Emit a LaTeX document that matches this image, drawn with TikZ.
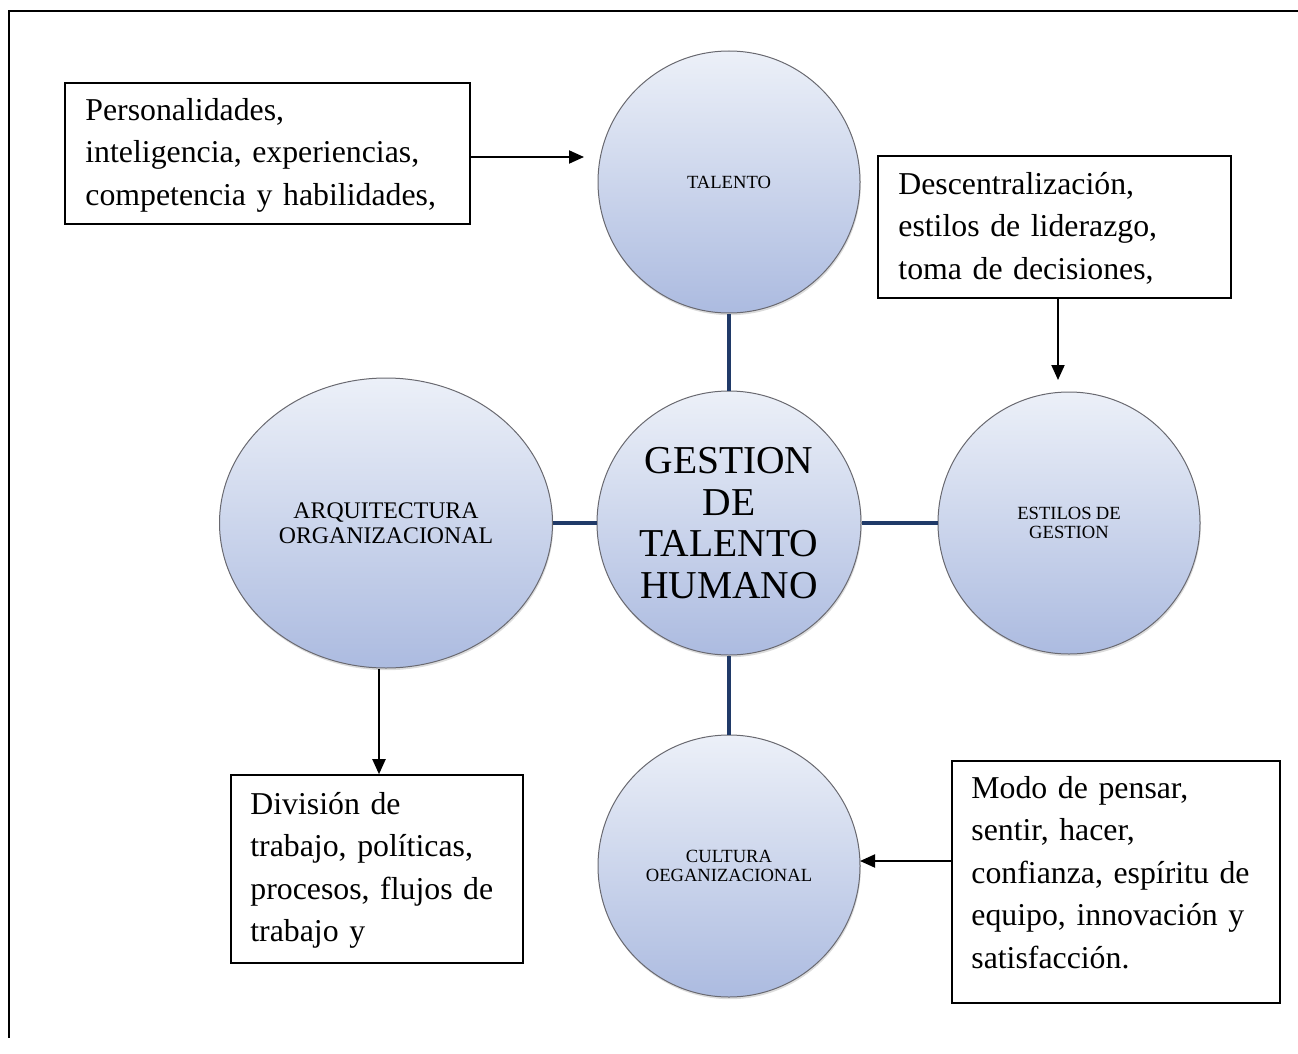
\documentclass[tikz,border=0pt]{standalone}
\usepackage{fontspec}
\setmainfont{Liberation Serif}[WordSpace=0.9]
\usetikzlibrary{arrows.meta,shapes.geometric,shadows}
\definecolor{navy}{RGB}{32,58,104}
\definecolor{bubtop}{RGB}{236,240,248}
\definecolor{bubbot}{RGB}{172,187,224}
\definecolor{bubrim}{RGB}{105,105,112}
\begin{document}
\begin{tikzpicture}[x=1pt,y=-1pt,
  bubblebase/.style={inner sep=0pt, top color=bubtop, bottom color=bubbot,
    draw=bubrim, line width=1pt, align=center,
    drop shadow={shadow xshift=0.8pt, shadow yshift=-2.2pt, opacity=0.28}},
  bubble/.style={bubblebase, circle, minimum size=#1},
  link/.style={draw=navy, line width=4pt},
  noteframe/.style={draw=black, line width=1.6pt, rectangle, inner sep=0pt},
  notetext/.style={inner sep=0pt, align=left, anchor=base west,
    font=\fontsize{31.8}{42.5}\selectfont},
  pointer/.style={draw=black, line width=2pt, -{Triangle[length=15pt,width=13pt]}},
  smallcap/.style={font=\fontsize{18.6}{19.5}\selectfont},
]
\useasboundingbox (0,0) rectangle (1298,1054);

% page frame (top and left rules)
\draw[line width=2.3pt] (1298,11) -- (9,11) -- (9,1038);

% central idea and its four branches
\node[bubble=264pt, font=\fontsize{39.5}{41.5}\selectfont] (gth) at (729,523)
  {GESTION\\DE\\TALENTO\\HUMANO};
\node[bubble=262pt, smallcap] (talento) at (729,182) {TALENTO};
\node[bubble=262pt, smallcap] (estilos) at (1069,523) {ESTILOS DE\\GESTION};
\node[bubble=262pt, smallcap] (cultura) at (729,866) {CULTURA\\OEGANIZACIONAL};
\node[bubblebase, ellipse, minimum width=333pt, minimum height=290pt,
  font=\fontsize{23.8}{24.5}\selectfont] (arq) at (386,523)
  {ARQUITECTURA\\ORGANIZACIONAL};

% navy links between the hub and the branches
\draw[link] (talento.south) -- (gth.north);
\draw[link] (gth.south) -- (cultura.north);
\draw[link] (arq.east) -- (gth.west);
\draw[link] (gth.east) -- (estilos.west);

% description boxes
\node[noteframe, minimum width=405pt, minimum height=141pt] (box1) at (267.5,153.5) {};
\node[noteframe, minimum width=353pt, minimum height=142pt] (box2) at (1054.5,227) {};
\node[noteframe, minimum width=292pt, minimum height=188pt] (box3) at (377,869) {};
\node[noteframe, minimum width=328pt, minimum height=242pt] (box4) at (1116,882) {};

\node[notetext, text width=370pt] (txt1) at ([xshift=21pt,yshift=-38pt]box1.north west)
  {Personalidades,\\inteligencia, experiencias,\\competencia y habilidades,};
\node[notetext, text width=320pt] (txt2) at ([xshift=21pt,yshift=-39pt]box2.north west)
  {Descentralización,\\estilos de liderazgo,\\toma de decisiones,};
\node[notetext, text width=270pt] (txt3) at ([xshift=20pt,yshift=-40pt]box3.north west)
  {División de\\trabajo, políticas,\\procesos, flujos de\\trabajo y};
\node[notetext, text width=300pt] (txt4) at ([xshift=20pt,yshift=-38pt]box4.north west)
  {Modo de pensar,\\sentir, hacer,\\confianza, espíritu de\\equipo, innovación y\\satisfacción.};

% arrow end points
\coordinate (tipA) at (584,157);
\coordinate (tipB) at (1058,380);
\coordinate (tipC) at (379,774);
\coordinate (tipD) at (860,861);

% arrows from the descriptions to the branches
\draw[pointer] (box1.east |- tipA) -- (tipA);
\draw[pointer] (box2.south -| tipB) -- (tipB);
\draw[pointer] (arq.south -| tipC) -- (box3.north -| tipC);
\draw[pointer] (box4.west |- tipD) -- (tipD);
\end{tikzpicture}
\end{document}
